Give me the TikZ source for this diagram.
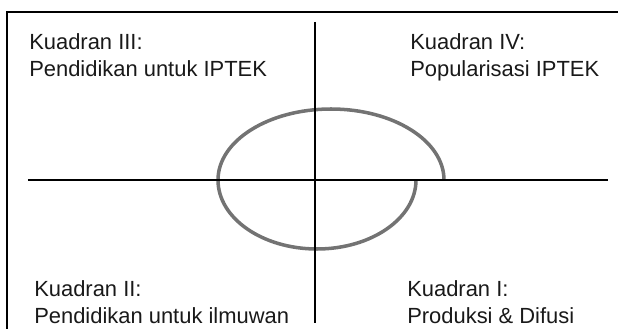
\documentclass[tikz,border=0pt]{standalone}
\usepackage{fontspec}
\setmainfont{Liberation Sans}
\begin{document}
\begin{tikzpicture}[
    label/.style={anchor=north west, inner sep=0, align=left, text=black!90,
        font=\fontsize{15.6pt}{19.4pt}\selectfont},
    axis/.style={black, line width=1.5pt},
    loopline/.style={black!55, line width=2.5pt}
    ]
    \useasboundingbox (-7.875,-3.7) rectangle (7.575,4.5);

    %Frame
    \draw[line width=1.4pt] (-7.7,-3.8) -- (-7.7,4.2) -- (7.7,4.2);

    %Nodes
    \node[label] at (-7.15, 3.67) (q3) {Kuadran III:\\Pendidikan untuk IPTEK};
    \node[label] at (2.375, 3.67) (q4) {Kuadran IV:\\Popularisasi IPTEK};
    \node[label] at (-7.025, -2.5) (q2) {Kuadran II:\\Pendidikan untuk ilmuwan};
    \node[label] at (2.3, -2.5) (q1) {Kuadran I:\\Produksi \& Difusi};

    \coordinate (top) at (0, 3.95);
    \coordinate (bottom) at (0, -3.575);
    \coordinate (left) at (-7.175, 0);
    \coordinate (right) at (7.325, 0);
    \coordinate (start) at (2.525, 0);

    %Lines
    \draw[loopline] (start) arc[start angle=0, end angle=-180, x radius=2.475, y radius=1.725]
        arc[start angle=180, end angle=0, x radius=2.825, y radius=1.775];
    \draw[axis] (left) -- (right);
    \draw[axis] (top) -- (bottom);
\end{tikzpicture}
\end{document}
